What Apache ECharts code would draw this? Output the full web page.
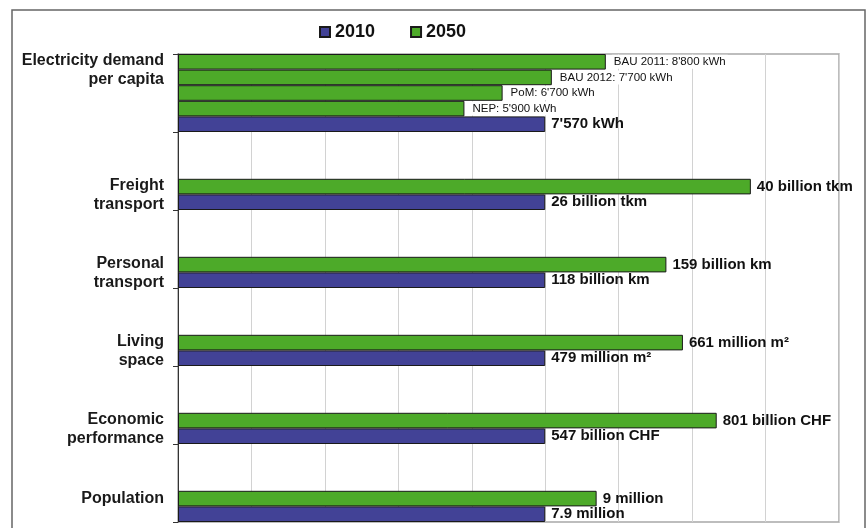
<!DOCTYPE html>
<html><head><meta charset="utf-8">
<script src="https://cdn.jsdelivr.net/npm/echarts@6/dist/echarts.min.js"></script>
<style>html,body{margin:0;padding:0;background:#fff}#c{width:868px;height:528px}</style>
</head><body><div id="c"></div>
<script>
// ---- data (index: 2010 = 100) ----
const groupLabels = ['Electricity demand\nper capita', 'Freight\ntransport', 'Personal\ntransport', 'Living\nspace', 'Economic\nperformance', 'Population'];
const index2010 = [100, 100, 100, 100, 100, 100];
const index2050 = [null, 156, 133, 137.5, 146.7, 114];
const labels2010 = ["7'570 kWh", '26 billion tkm', '118 billion km', '479 million m²', '547 billion CHF', '7.9 million'];
const labels2050 = [null, '40 billion tkm', '159 billion km', '661 million m²', '801 billion CHF', '9 million'];
const scenarioValues = [116.5, 101.8, 88.4, 78.0];
const scenarioLabels = ["BAU 2011: 8'800 kWh", "BAU 2012: 7'700 kWh", "PoM: 6'700 kWh", "NEP: 5'900 kWh"];
const seriesNames = ['2010', '2050'];
const xMin = 0, xMax = 180, xStep = 20;

const FONT = "'Liberation Sans', Arial, Helvetica, sans-serif";
const BLUE = '#424296', GREEN = '#4daa29';
const SLOTS = 5;
const rows = [], rowText = {}, d2010 = [], d2050 = [];
groupLabels.forEach((g, gi) => {
  const labelSlot = gi === 0 ? 0 : SLOTS - 2;
  for (let s = 0; s < SLOTS; s++) {
    const id = 'r' + (gi * SLOTS + s);
    rows.push(id);
    if (s === labelSlot) {
      const lines = g.split('\n').map(t => '{a|' + t + '}');
      rowText[id] = (lines.length > 1 ? '{s| }\n' : '') + lines.join('\n');
    }
    d2010.push(s === SLOTS - 1 ? { value: index2010[gi], label: { formatter: labels2010[gi] } } : null);
    if (gi === 0) {
      if (s < scenarioValues.length) {
        d2050.push({ value: scenarioValues[s], label: { formatter: scenarioLabels[s], fontWeight: 'normal', fontSize: 11.5, backgroundColor: '#fff', padding: [1, 2, 1, 2], distance: 6 } });
      } else d2050.push(null);
    } else {
      d2050.push(s === SLOTS - 2 ? { value: index2050[gi], label: { formatter: labels2050[gi] } } : null);
    }
  }
});

const barLabel = { show: true, position: 'right', distance: 6, fontFamily: FONT, fontWeight: 'bold', fontSize: 15, color: '#111' };
const chart = echarts.init(document.getElementById('c'), null, { renderer: 'canvas' });
chart.setOption({
  animation: false,
  backgroundColor: '#fff',
  textStyle: { fontFamily: FONT },
  graphic: [{ type: 'rect', silent: true, z: -10, shape: { x: 12, y: 10, width: 853, height: 540 }, style: { fill: 'none', stroke: '#666', lineWidth: 1.5 } }],
  legend: {
    data: seriesNames, left: 314, top: 18, icon: 'rect', itemWidth: 10, itemHeight: 10, itemGap: 35,
    textStyle: { fontFamily: FONT, fontWeight: 'bold', fontSize: 18, color: '#111' }
  },
  grid: { left: 178, right: 29, top: 54, bottom: 6, show: true, borderColor: '#a8a8a8', borderWidth: 1.5 },
  xAxis: {
    type: 'value', min: xMin, max: xMax, interval: xStep,
    axisLabel: { show: false }, axisLine: { show: false }, axisTick: { show: false },
    splitLine: { show: true, lineStyle: { color: '#d2d2d2', width: 1 } }
  },
  yAxis: {
    type: 'category', inverse: true, data: rows,
    axisLine: { show: true, lineStyle: { color: '#333', width: 1 } },
    axisTick: { show: true, length: 5, interval: (i) => i % SLOTS === 0, lineStyle: { color: '#333' } },
    axisLabel: {
      interval: 0, margin: 14, formatter: (v) => rowText[v] || '', align: 'right',
      fontFamily: FONT, fontWeight: 'bold', fontSize: 16, lineHeight: 19, color: '#1a1a1a',
      rich: {
        a: { fontFamily: FONT, fontWeight: 'bold', fontSize: 16, lineHeight: 19, color: '#1a1a1a', align: 'right' },
        s: { fontSize: 8, lineHeight: 16 }
      }
    }
  },
  series: [
    { name: seriesNames[0], type: 'bar', data: d2010, barGap: '-100%', barCategoryGap: '0%', itemStyle: { color: BLUE, borderColor: '#1a1a1a', borderWidth: 1 }, label: barLabel },
    { name: seriesNames[1], type: 'bar', data: d2050, barGap: '-100%', barCategoryGap: '0%', itemStyle: { color: GREEN, borderColor: '#1a1a1a', borderWidth: 1 }, label: barLabel }
  ]
});
</script>
</body></html>
